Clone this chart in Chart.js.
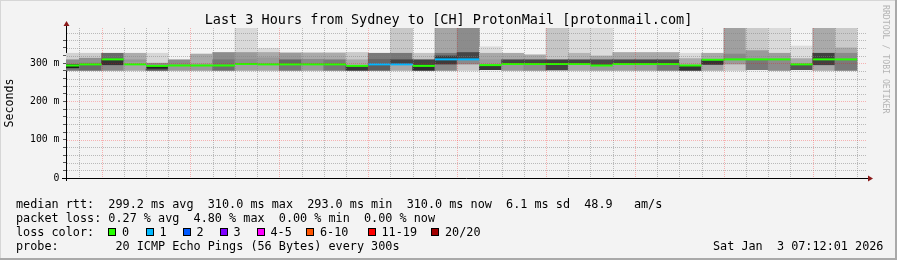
<!DOCTYPE html>
<html>
<head>
<meta charset="utf-8">
<script src="https://cdn.jsdelivr.net/npm/chart.js@4.4.1/dist/chart.umd.min.js"></script>
<style>
  body { margin: 0; background: #f3f3f3; }
  #wrap { position: relative; width: 897px; height: 260px; overflow: hidden; background: #f3f3f3;
          font-family: "DejaVu Sans Mono", monospace; color: #000; }
  #wrap canvas { position: absolute; left: 0; top: 0; }
  .t { position: absolute; white-space: pre; font-size: 11.8px; line-height: 14px; }
  .box { position: absolute; width: 6px; height: 6px; border: 1px solid #000; }
  #title { position: absolute; left: 0; top: 11px; width: 897px; text-align: center;
           font-size: 13.5px; line-height: 16px; white-space: pre; }
  #credit { position: absolute; left: 881px; top: 5px; writing-mode: vertical-rl;
            font-size: 8.2px; color: #b4b4b4; white-space: pre; }
  .edge { position: absolute; }
</style>
</head>
<body>
<div id="wrap">
  <canvas id="myChart" width="897" height="260"></canvas>
  <div id="title">Last 3 Hours from Sydney to [CH] ProtonMail [protonmail.com]</div>
  <div id="credit">RRDTOOL / TOBI OETIKER</div>
  <div class="t" style="left:16px;top:197px">median rtt:  299.2 ms avg  310.0 ms max  293.0 ms min  310.0 ms now  6.1 ms sd  48.9   am/s</div>
  <div class="t" style="left:16px;top:211px">packet loss: 0.27 % avg  4.80 % max  0.00 % min  0.00 % now</div>
  <div class="t" style="left:16px;top:225px">loss color:</div>
  <div id="lossLegend"></div>
  <div class="t" style="left:16px;top:239px">probe:        20 ICMP Echo Pings (56 Bytes) every 300s</div>
  <div class="t" style="left:713px;top:239px">Sat Jan  3 07:12:01 2026</div>
  <div class="edge" style="left:0;top:0;width:897px;height:1px;background:#d6d6d6"></div>
  <div class="edge" style="left:0;top:0;width:1px;height:260px;background:#d6d6d6"></div>
  <div class="edge" style="left:0;top:258px;width:897px;height:2px;background:#a9a9a9"></div>
  <div class="edge" style="left:895px;top:0;width:2px;height:260px;background:#a9a9a9"></div>
</div>

<script>
// 5 minute bins, start time of each
const binStart = ['04:10','04:15','04:20','04:25','04:30','04:35','04:40','04:45','04:50','04:55',
                  '05:00','05:05','05:10','05:15','05:20','05:25','05:30','05:35','05:40','05:45',
                  '05:50','05:55','06:00','06:05','06:10','06:15','06:20','06:25','06:30','06:35',
                  '06:40','06:45','06:50','06:55','07:00','07:05'];

// median rtt in ms
const medianMs = [294,297,310,297,293,294,294,294,298,297,297,297,297,293,297,297,293,310,310,295,
                  298,298,298,298,294,298,298,298,294,309,310,310,310,297,310,310];

// index into lossColors for each bin
const lossIdx = [0,0,0,0,0,0,0,0,0,0,0,0,0,0,1,1,0,1,1,0,0,0,0,0,0,0,0,0,0,0,0,0,0,0,0,0];

// smoke: band edges in ms (bottom to top), null = no band
const edge0 = [281,281,281,281,281,281,281,281,281,281,281,281,281,281,281,281,281,281,281,283,
               281,281,282,281,281,281,281,281,281,281,281,283,281,283,281,281];
const edge1 = [286,297,294,301,285,293,298,294,298,298,297,297,297,293,297,297,293,296,296,293,
               298,298,298,298,294,297,297,297,293,295,296,309,309,296,294,309];
const edge2 = [296,301,309,309,293,309,324,309,310,314,309,310,309,309,310,309,309,319,309,309,
               309,309,309,309,309,309,309,309,312,309,309,333,326,312,326,326];
const edge3 = [309,313,326,326,300,null,null,328,328,328,327,327,327,328,326,326,326,326,328,326,
               326,322,400,326,319,328,328,328,326,326,324,400,400,345,400,340];
const edge4 = [326,326,null,null,326,null,null,null,400,339,null,null,null,null,null,400,null,400,400,343,
               null,null,null,400,400,null,null,null,null,null,400,null,null,null,null,400];

// grey level of each band
const shade1 = [119,106,138,166,85,153,154,110,160,164,119,154,119,56,94,168,46,136,200,54,
                153,140,68,166,153,156,153,120,52,166,200,120,140,85,168,122];
const shade2 = [30,136,51,151,34,140,169,119,142,153,102,138,122,169,102,68,68,60,138,154,
                68,68,62,68,74,68,68,68,169,51,154,154,156,168,64,138];
const shade3 = [140,144,106,172,138,null,null,140,154,169,154,170,171,202,122,119,196,119,69,168,
                169,170,198,180,170,169,169,170,218,169,136,202,218,220,170,170];
const shade4 = [210,204,null,null,214,null,null,null,217,220,null,null,null,null,null,200,null,166,140,220,
                null,null,null,220,220,null,null,null,null,null,160,null,null,null,null,202];

const lossLabels = ['0','1','2','3','4-5','6-10','11-19','20/20'];
const lossColors = ['#26ff00','#00b8ff','#0059ff','#7e00ff','#ff00ff','#ff5500','#ff0000','#a10000'];

const yTicks = [0, 100, 200, 300];

function toMin(t) {
    const p = t.split(':');
    return parseInt(p[0]) * 60 + parseInt(p[1]);
}
function fmtMin(v) {
    const h = Math.floor(v / 60), m = v % 60;
    return String(h).padStart(2, '0') + ':' + String(m).padStart(2, '0');
}

const step = 5;
const edges = [edge0, edge1, edge2, edge3, edge4];
const shades = [shade1, shade2, shade3, shade4];

const datasets = [];
shades.forEach(function(sh, k) {
    const pts = [], cols = [];
    binStart.forEach(function(t, i) {
        const lo = edges[k][i], hi = edges[k + 1][i];
        if (lo == null || hi == null) return;
        pts.push({ x: toMin(t) + step / 2, y: [lo, hi] });
        cols.push('rgb(' + sh[i] + ',' + sh[i] + ',' + sh[i] + ')');
    });
    datasets.push({
        type: 'bar',
        data: pts,
        backgroundColor: cols,
        borderWidth: 0,
        barPercentage: 1,
        categoryPercentage: 1,
        grouped: false,
        clip: 0,
        order: 2
    });
});

const medPts = [];
binStart.forEach(function(t, i) {
    const s = toMin(t);
    medPts.push({ x: s, y: medianMs[i] }, { x: s + step, y: medianMs[i] }, { x: s + step, y: null });
});
datasets.push({
    type: 'line',
    data: medPts,
    borderWidth: 2,
    borderCapStyle: 'butt',
    pointRadius: 0,
    spanGaps: false,
    clip: 0,
    order: 0,
    segment: {
        borderColor: ctx => lossColors[lossIdx[Math.floor(ctx.p0DataIndex / 3)]]
    }
});

const GRID = 'rgba(128,128,128,0.5)';
const MGRID = 'rgba(255,0,0,0.27)';

// dotted grid over the smoke, like rrdtool
const dottedGrid = {
    id: 'dottedGrid',
    afterDatasetsDraw(chart) {
        const ctx = chart.ctx, a = chart.chartArea;
        const xs = chart.scales.x, ys = chart.scales.y;
        ctx.save();
        ctx.lineWidth = 1;
        ctx.setLineDash([1, 1]);
        for (let v = Math.ceil(xs.min / 5) * 5; v <= xs.max; v += 5) {
            const px = Math.round(xs.getPixelForValue(v)) + 0.5;
            if (px <= a.left + 1) continue;
            ctx.strokeStyle = v % 20 === 0 ? MGRID : GRID;
            ctx.beginPath();
            ctx.moveTo(px, a.top);
            ctx.lineTo(px, a.bottom);
            ctx.stroke();
        }
        for (let v = 20; v <= ys.max; v += 20) {
            const py = Math.round(ys.getPixelForValue(v)) + 0.5;
            ctx.strokeStyle = v % 100 === 0 ? MGRID : GRID;
            ctx.beginPath();
            ctx.moveTo(a.left + 1, py);
            ctx.lineTo(a.right, py);
            ctx.stroke();
        }
        ctx.restore();
    }
};

const axisArrows = {
    id: 'axisArrows',
    afterDraw(chart) {
        const ctx = chart.ctx, a = chart.chartArea;
        ctx.save();
        ctx.strokeStyle = '#000';
        ctx.lineWidth = 1;
        ctx.beginPath();
        ctx.moveTo(a.left + 0.5, a.top);
        ctx.lineTo(a.left + 0.5, a.top - 3);
        ctx.moveTo(a.left + 0.5, a.bottom);
        ctx.lineTo(a.left + 0.5, a.bottom + 3);
        ctx.moveTo(a.left - 4, a.bottom + 0.5);
        ctx.lineTo(a.left, a.bottom + 0.5);
        ctx.moveTo(a.right, a.bottom + 0.5);
        ctx.lineTo(a.right + 3, a.bottom + 0.5);
        ctx.stroke();
        ctx.fillStyle = '#8b1a1a';
        ctx.beginPath();
        ctx.moveTo(a.left + 0.5, a.top - 7);
        ctx.lineTo(a.left - 2.5, a.top - 2);
        ctx.lineTo(a.left + 3.5, a.top - 2);
        ctx.closePath();
        ctx.fill();
        ctx.beginPath();
        ctx.moveTo(a.right + 7, a.bottom + 0.5);
        ctx.lineTo(a.right + 2, a.bottom - 2.5);
        ctx.lineTo(a.right + 2, a.bottom + 3.5);
        ctx.closePath();
        ctx.fill();
        ctx.restore();
    }
};

const tickFont = { family: 'DejaVu Sans Mono', size: 9.8 };

const ctx = document.getElementById('myChart').getContext('2d');
const chart = new Chart(ctx, {
    data: { datasets: datasets },
    plugins: [dottedGrid, axisArrows],
    options: {
        responsive: false,
        animation: false,
        events: [],
        layout: { padding: { top: 28, right: 31, bottom: 0, left: 0 } },
        plugins: { legend: { display: false }, tooltip: { enabled: false } },
        scales: {
            x: {
                type: 'linear',
                offset: false,
                min: toMin(binStart[0]) + 2,
                max: toMin(binStart[binStart.length - 1]) + 7,
                afterFit: s => { s.height = 82; },
                afterBuildTicks: axis => { axis.ticks = axis.ticks.filter(t => t.value % 5 === 0); },
                ticks: {
                    stepSize: 5,
                    autoSkip: false,
                    maxRotation: 0,
                    color: '#000',
                    font: tickFont,
                    padding: 1,
                    callback: v => (v % 20 === 0 ? fmtMin(v) : '')
                },
                grid: {
                    offset: false,
                    drawOnChartArea: false,
                    tickLength: 3,
                    tickColor: c => (c.tick && c.tick.value % 20 === 0 ? 'rgba(255,0,0,0.4)' : 'rgba(128,128,128,0.6)')
                },
                border: { color: '#000', width: 1 }
            },
            y: {
                min: 0,
                max: 392,
                afterFit: s => { s.width = 66; },
                afterBuildTicks: axis => { axis.ticks = axis.ticks.filter(t => t.value % 20 === 0); },
                ticks: {
                    stepSize: 20,
                    autoSkip: false,
                    color: '#000',
                    font: tickFont,
                    padding: 3.5,
                    callback: v => (yTicks.indexOf(v) < 0 ? '' : (v === 0 ? '0' : v + ' m'))
                },
                grid: {
                    drawOnChartArea: false,
                    tickLength: 3,
                    tickColor: '#555'
                },
                border: { color: '#000', width: 1 },
                title: {
                    display: true,
                    text: 'Seconds',
                    color: '#000',
                    font: { family: 'DejaVu Sans Mono', size: 11.6 },
                    padding: { top: 3, bottom: 0 }
                }
            }
        }
    }
});

// loss colour legend
const boxX = [108, 145.5, 182.5, 219.5, 256.5, 306, 367.5, 431];
const legendDiv = document.getElementById('lossLegend');
lossLabels.forEach(function(lbl, i) {
    const b = document.createElement('div');
    b.className = 'box';
    b.style.left = boxX[i] + 'px';
    b.style.top = '228px';
    b.style.background = lossColors[i];
    legendDiv.appendChild(b);
    const s = document.createElement('div');
    s.className = 't';
    s.style.left = (boxX[i] + 14) + 'px';
    s.style.top = '225px';
    s.textContent = lbl;
    legendDiv.appendChild(s);
});
</script>
</body>
</html>
